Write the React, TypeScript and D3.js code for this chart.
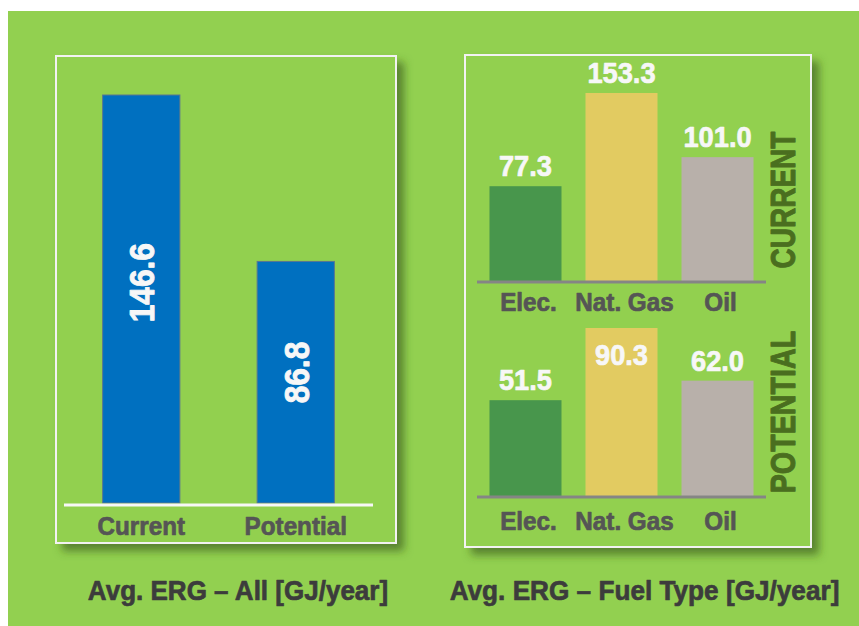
import React from "react";
import * as d3 from "d3";

const allCategories = ["Current", "Potential"];
const allValues = [146.6, 86.8];
const fuelCategories = ["Elec.", "Nat. Gas", "Oil"];
const currentValues = [77.3, 153.3, 101.0];
const potentialValues = [51.5, 90.3, 62.0];
const fuelColors = ["#48964c", "#e2cb61", "#b8b0aa"];
const leftTitle = "Avg. ERG \u2013 All [GJ/year]";
const rightTitle = "Avg. ERG \u2013 Fuel Type [GJ/year]";
const panelLabels = ["CURRENT", "POTENTIAL"];

const FONT = "'Liberation Sans', Arial, Helvetica, sans-serif";

function SText({ x, y, sx = 1, rotate = 0, size, fill, children, anchor = "middle", sw = 0.7 }: any) {
  return (
    <g transform={`translate(${x},${y}) rotate(${rotate}) scale(${sx},1)`}>
      <text
        x={0}
        y={0}
        textAnchor={anchor}
        fontFamily={FONT}
        fontWeight="bold"
        fontSize={size}
        fill={fill}
        stroke={fill}
        strokeWidth={sw}
        strokeLinejoin="round"
      >
        {children}
      </text>
    </g>
  );
}

export default function App() {
  const W = 859;
  const H = 626;

  // Left panel scales
  const xL = d3.scaleBand<string>().domain(allCategories).range([64, 373]).paddingInner(0.5).paddingOuter(0.25);
  const yL = d3.scaleLinear().domain([0, 146.6]).range([503, 95]);

  // Right panel scales
  const xR = d3.scaleBand<string>().domain(fuelCategories).range([477, 766]).paddingInner(0.25).paddingOuter(0.13);
  const yTop = d3.scaleLinear().domain([0, 153.3]).range([281, 93]);
  const yBot = d3.scaleLinear().domain([0, 90.3]).range([496, 328]);

  const fuelPanel = (values: number[], y: any, labelOffset: number, minTop: number, key: string) => {
    const base = y(0);
    return (
      <g key={key}>
        {values.map((v, i) => {
          const c = fuelCategories[i];
          const x0 = xR(c)!;
          const bw = xR.bandwidth();
          const top = y(v);
          const inside = top - 31 < minTop;
          const ly = inside ? top + 37 : top - 10;
          return (
            <g key={c}>
              <rect x={x0} y={top} width={bw} height={base - top} fill={fuelColors[i]} />
              <SText x={x0 + bw / 2} y={ly} sx={0.94} size={29} fill="#f7f7f7">
                {v.toFixed(1)}
              </SText>
              <SText x={x0 + bw / 2 + 3} y={base + labelOffset} sx={0.97} size={25} fill="#555555">
                {c}
              </SText>
            </g>
          );
        })}
        <line x1={477} x2={766} y1={base + 1} y2={base + 1} stroke="#858585" strokeWidth={3} />
      </g>
    );
  };

  return (
    <div style={{ position: "absolute", left: 0, top: 0 }}>
      <svg width={W} height={H} viewBox={`0 0 ${W} ${H}`} style={{ display: "block" }}>
        <defs>
          <filter id="shadow" x="-10%" y="-10%" width="125%" height="125%">
            <feDropShadow dx={7} dy={7} stdDeviation={4} floodColor="#3b5a1c" floodOpacity={0.65} />
          </filter>
        </defs>
        <rect x={0} y={0} width={W} height={H} fill="#ffffff" />
        <rect x={8} y={11} width={W - 8} height={H - 11} fill="#92d050" />

        {/* Left box */}
        <rect x={56} y={56} width={340} height={487} fill="#92d050" stroke="#f2f2f2" strokeWidth={2} filter="url(#shadow)" />
        {allValues.map((v, i) => {
          const c = allCategories[i];
          const x0 = xL(c)!;
          const bw = xL.bandwidth();
          const top = yL(v);
          return (
            <g key={c}>
              <rect x={x0} y={top} width={bw} height={yL(0) - top} fill="#0070c0" stroke="#5a7690" strokeWidth={1} />
              <SText x={x0 + bw / 2 + 13} y={yL(v * 0.54)} rotate={-90} sx={0.88} size={36} fill="#f7f7f7" sw={0.9}>
                {v.toFixed(1)}
              </SText>
              <SText x={x0 + bw / 2} y={535} sx={0.97} size={25} fill="#555555">
                {c}
              </SText>
            </g>
          );
        })}
        <line x1={64} x2={373} y1={505} y2={505} stroke="#f7f7f7" strokeWidth={3} />
        <SText x={238} y={600} sx={0.93} size={28} fill="#3c3c3c">
          {leftTitle}
        </SText>

        {/* Right box */}
        <rect x={465} y={55} width={346} height={492} fill="#92d050" stroke="#f2f2f2" strokeWidth={2} filter="url(#shadow)" />
        {fuelPanel(currentValues, yTop, 30, 60, "cur")}
        {fuelPanel(potentialValues, yBot, 34, 320, "pot")}
        <SText x={795} y={200} rotate={-90} sx={0.8} size={35} fill="#4a6e1f" sw={1}>
          {panelLabels[0]}
        </SText>
        <SText x={795} y={412} rotate={-90} sx={0.82} size={35} fill="#4a6e1f" sw={1}>
          {panelLabels[1]}
        </SText>
        <SText x={644.5} y={600} sx={0.935} size={28} fill="#3c3c3c">
          {rightTitle}
        </SText>
      </svg>
    </div>
  );
}
